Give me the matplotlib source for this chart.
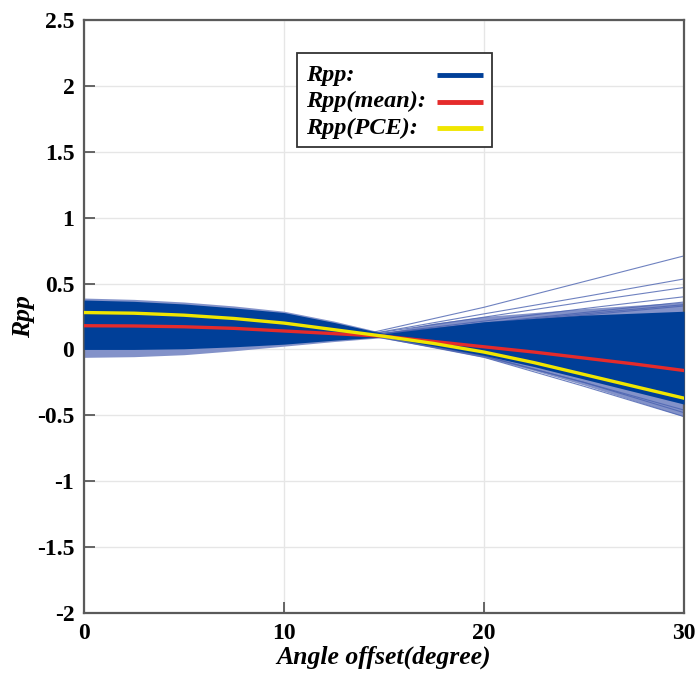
import matplotlib
matplotlib.use("Agg")
import matplotlib.pyplot as plt
from matplotlib.patches import Rectangle

# angle nodes (degree)
angle = [0, 2.5, 5, 7.5, 10, 12.5, 15, 17.5, 20, 22.5, 25, 27.5, 30]

# dense band of Rpp realisations
band_upper = [0.375, 0.365, 0.345, 0.315, 0.28, 0.205, 0.12, 0.165, 0.21, 0.235, 0.26, 0.275, 0.29]
band_lower = [0.0, 0.0, 0.005, 0.02, 0.04, 0.07, 0.095, 0.025, -0.045, -0.13, -0.225, -0.32, -0.415]

# thin outer fringe of the realisations
outer_upper = [0.39, 0.38, 0.36, 0.33, 0.29, 0.215, 0.125, 0.2, 0.25, 0.28, 0.31, 0.335, 0.36]
outer_lower = [-0.06, -0.055, -0.04, -0.01, 0.025, 0.06, 0.09, 0.015, -0.06, -0.16, -0.27, -0.39, -0.51]

# mean and PCE curves
rpp_mean = [0.18, 0.178, 0.172, 0.16, 0.14, 0.12, 0.1, 0.06, 0.02, -0.02, -0.065, -0.11, -0.16]
rpp_pce = [0.28, 0.275, 0.26, 0.235, 0.2, 0.15, 0.1, 0.045, -0.02, -0.1, -0.19, -0.28, -0.37]

# single realisations leaving the band after the crossing point
angle_right = [14, 20, 25, 30]
single_lines = [
    [0.115, 0.32, 0.515, 0.71],
    [0.11, 0.27, 0.40, 0.535],
    [0.11, 0.245, 0.36, 0.47],
    [0.105, 0.215, 0.31, 0.40],
    [0.105, 0.20, 0.28, 0.36],
    [0.11, 0.195, 0.27, 0.34],
    [0.105, 0.19, 0.26, 0.33],
    [0.12, -0.05, -0.25, -0.48],
    [0.115, -0.06, -0.28, -0.51],
    [0.11, -0.05, -0.25, -0.46],
]

labels = ['Rpp:', 'Rpp(mean):', 'Rpp(PCE):']

blue = '#003f98'
light_blue = '#8392c9'
red = '#e52b2b'
yellow = '#f0e600'

plt.rcParams['font.family'] = ['Liberation Serif', 'DejaVu Serif']
plt.rcParams['font.weight'] = 'bold'

fig = plt.figure(figsize=(6.96, 6.81), dpi=100)
ax = fig.add_axes([0.1207, 0.0999, 0.8621, 0.8707])

ax.fill_between(angle, outer_lower, outer_upper, color=light_blue, lw=0, zorder=2)
for vals in single_lines:
    ax.plot(angle_right, vals, color='#4a62b0', lw=0.8, alpha=0.8, zorder=2)
ax.fill_between(angle, band_lower, band_upper, color=blue, lw=0, zorder=3)
ax.plot(angle, rpp_mean, color=red, lw=2.4, zorder=4)
ax.plot(angle, rpp_pce, color=yellow, lw=2.4, zorder=5)

ax.set_xlim(0, 30)
ax.set_ylim(-2, 2.5)
ax.set_xticks([0, 10, 20, 30])
ax.set_yticks([-2, -1.5, -1, -0.5, 0, 0.5, 1, 1.5, 2, 2.5])
ax.set_yticklabels(['-2', '-1.5', '-1', '-0.5', '0', '0.5', '1', '1.5', '2', '2.5'])
ax.grid(True, color='#e6e6e6', lw=1.0, zorder=0)
ax.set_axisbelow(True)
ax.tick_params(direction='in', length=8, width=1.3, color='#5a5a5a', labelsize=17, pad=7)
for s in ax.spines.values():
    s.set_color('#5a5a5a')
    s.set_linewidth(1.6)

ax.set_xlabel('Angle offset(degree)', fontsize=18.5, fontstyle='italic', fontweight='bold', labelpad=1)
ax.set_ylabel('Rpp', fontsize=18.5, fontstyle='italic', fontweight='bold', labelpad=1)

# legend drawn by hand: text on the left, line sample on the right
ax.add_patch(Rectangle((0.355, 0.786), 0.325, 0.158, transform=ax.transAxes,
                       facecolor='white', edgecolor='#333333', lw=1.3, zorder=10))
row_y = [0.907, 0.862, 0.818]
for lab, col, yy in zip(labels, [blue, red, yellow], row_y):
    ax.text(0.37, yy, lab, transform=ax.transAxes, fontsize=17.5, fontstyle='italic',
            fontweight='bold', va='center', ha='left', zorder=11)
    ax.plot([0.589, 0.665], [yy, yy], transform=ax.transAxes, color=col, lw=3.5,
            solid_capstyle='butt', zorder=11)

fig.savefig('out.png', dpi=100)
